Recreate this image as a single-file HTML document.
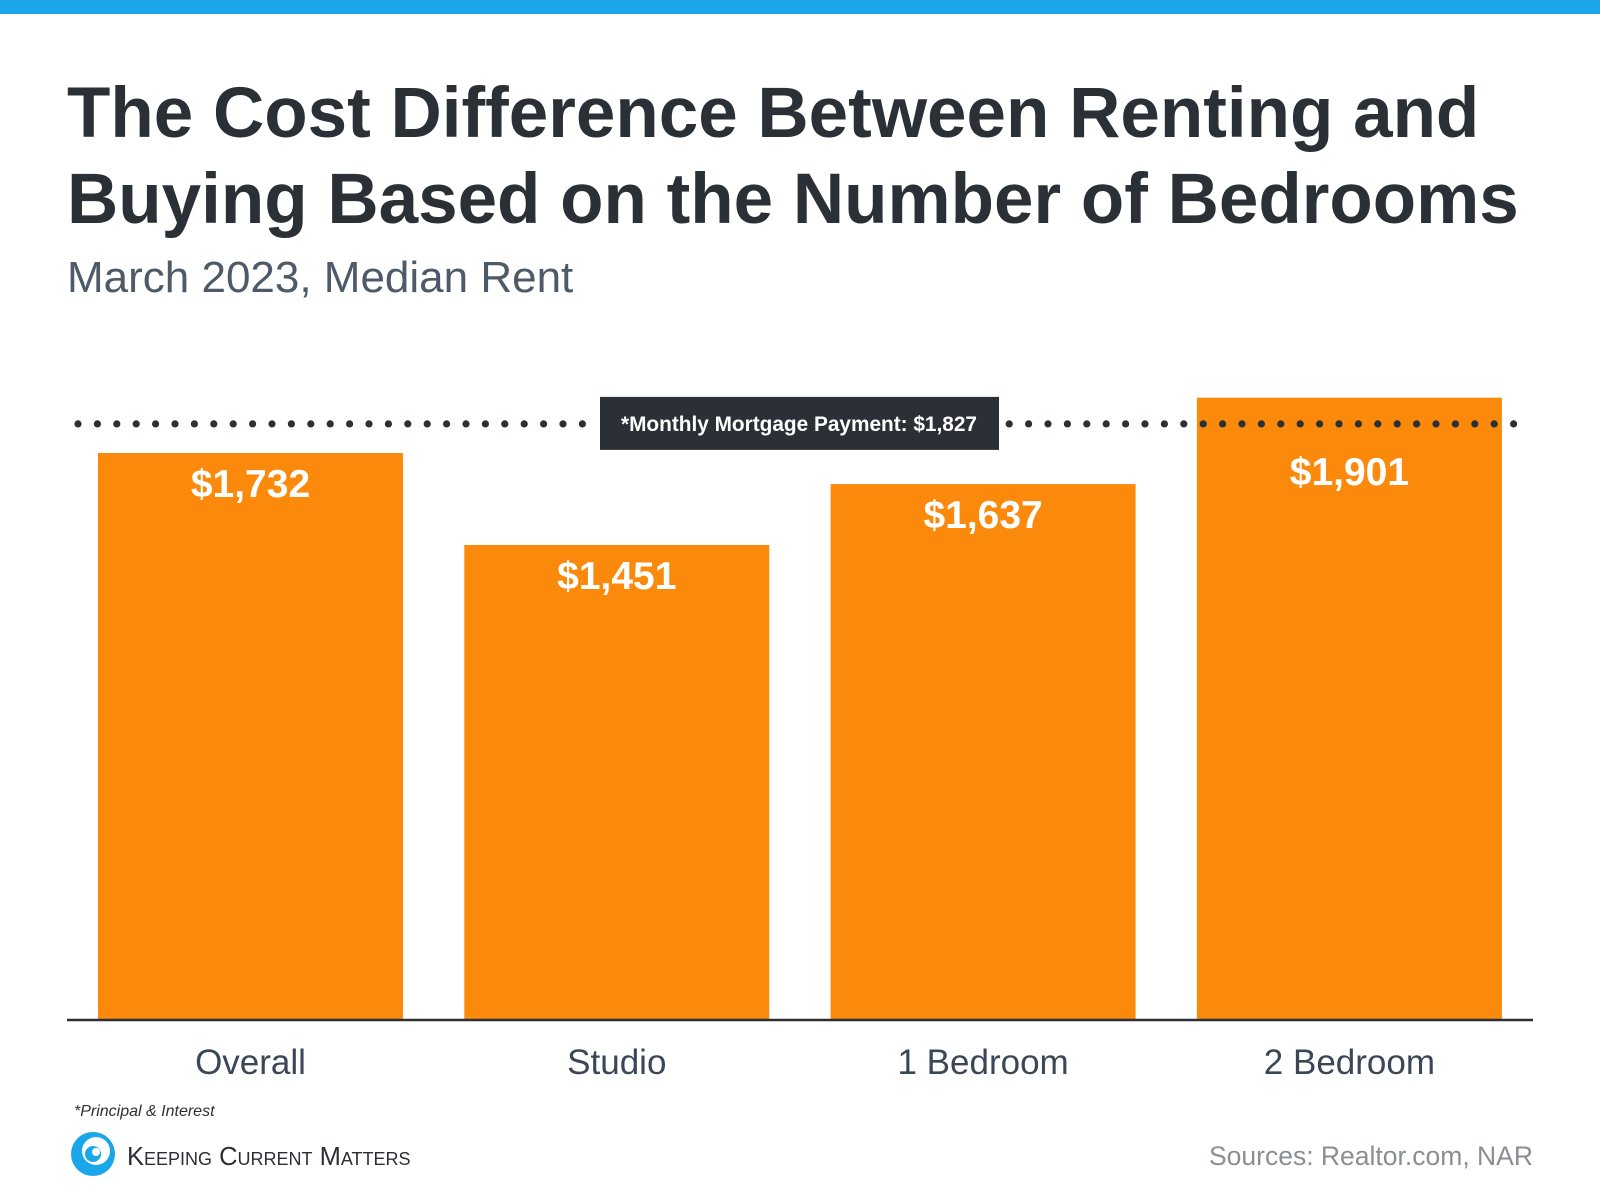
<!DOCTYPE html>
<html><head><meta charset="utf-8"><style>
html,body{margin:0;padding:0;background:#fff;}
svg{display:block;font-family:"Liberation Sans",Arial,sans-serif;}
</style></head><body>
<svg id="chart" width="1600" height="1200" viewBox="0 0 1600 1200">
<rect x="0" y="0" width="1600" height="14" fill="#19a7ea"/>
<text x="67" y="137" font-size="71" font-weight="bold" fill="#2b2f36">The Cost Difference Between Renting and</text>
<text x="67" y="223" font-size="71" font-weight="bold" fill="#2b2f36">Buying Based on the Number of Bedrooms</text>
<text x="67" y="292" font-size="44" fill="#4d5b68">March 2023, Median Rent</text>
<g id="bars"></g>
<g id="refline"></g>
<g id="labels"></g>
<line x1="67" y1="1020" x2="1533" y2="1020" stroke="#2b2f36" stroke-width="2.5"/>
<text x="74" y="1116" font-size="16" font-style="italic" fill="#2b2f36">*Principal &amp; Interest</text>
<g>
<circle cx="93" cy="1154" r="22" fill="#19a7ea"/>
<circle cx="96" cy="1151" r="14" fill="#fff"/>
<circle cx="93" cy="1154" r="8" fill="#19a7ea"/>
<circle cx="96" cy="1152" r="4" fill="#fff"/>
<text x="127" y="1165" font-size="25.5" fill="#2b2f36" font-variant="small-caps">Keeping Current Matters</text>
</g>
<text x="1533" y="1165" font-size="26.5" text-anchor="end" fill="#8a8f94">Sources: Realtor.com, NAR</text>
</svg>
<script>
const categories = ["Overall","Studio","1 Bedroom","2 Bedroom"];
const rentValues = [1732,1451,1637,1901];
const valueLabels = ["$1,732","$1,451","$1,637","$1,901"];
const mortgagePayment = [1827];
const mortgageLabel = ["*Monthly Mortgage Payment: $1,827"];

const NS="http://www.w3.org/2000/svg";
const baseY=1020, pxPerUnit=(1020-453)/1732;
function ys(v){return baseY - v*pxPerUnit;}
const bandStart=98, bandStep=366.3, barW=305;
function xs(i){return bandStart + i*bandStep;}
function mk(tag,attrs,parent){const e=document.createElementNS(NS,tag);for(const k in attrs)e.setAttribute(k,attrs[k]);parent.appendChild(e);return e;}
const gb=document.getElementById('bars');
const gl=document.getElementById('labels');
const my=ys(mortgagePayment[0])+2;
categories.forEach((c,i)=>{
  const y=ys(rentValues[i]);
  const r=mk('rect',{x:xs(i),y:y,width:barW,height:baseY-y,fill:'#fb8a0c'},gb);
  
  
  let ly=y+44;
  if(ly>my-30&&ly<my+50) ly=my+61;
  const t=mk('text',{x:xs(i)+barW/2,y:ly,'font-size':39,'font-weight':'bold',fill:'#fff','text-anchor':'middle'},gl);
  t.textContent=valueLabels[i];
  
  
  const l=mk('text',{x:xs(i)+barW/2,y:1074,'font-size':35,fill:'#3a4756','text-anchor':'middle'},gl);
  l.textContent=c;
  
  
});
const gr=document.getElementById('refline');
for(let x=78;x<=1522;x+=19.4){
  if(x>592&&x<1006)continue;
  const d=mk('circle',{cx:x,cy:my,r:3.6,fill:'#2b2f36'},gr);
  
  
}
const box=mk('rect',{x:600,y:my-27,width:399,height:53,fill:'#2b2f36'},gr);


const bt=mk('text',{x:799,y:my+7,'font-size':20.8,'font-weight':'bold',fill:'#fff','text-anchor':'middle'},gr);
bt.textContent=mortgageLabel[0];


</script>
</body></html>
